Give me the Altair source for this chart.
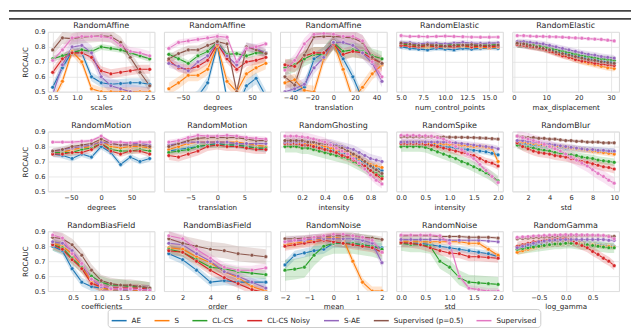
import altair as alt
import pandas as pd

SERIES = ["AE", "S", "CL-CS", "CL-CS Noisy", "S-AE", "Supervised (p=0.5)", "Supervised"]
COLORS = ["#1f77b4", "#ff7f0e", "#2ca02c", "#d62728", "#9467bd", "#8c564b", "#e377c2"]

# ---- Row 1 ----
p1_x = [0.5, 0.7, 0.9, 1.1, 1.3, 1.5, 1.7, 1.9, 2.1, 2.3, 2.5]
p1_ticks = [0.5, 1.0, 1.5, 2.0, 2.5]
p1_y = {
    "AE": [0.53, 0.66, 0.77, 0.76, 0.60, 0.56, 0.55, 0.555, 0.56, 0.56, 0.55],
    "S": [0.44, 0.57, 0.77, 0.70, 0.52, 0.50, 0.50, 0.50, 0.50, 0.50, 0.50],
    "CL-CS": [0.72, 0.74, 0.76, 0.78, 0.77, 0.80, 0.79, 0.78, 0.76, 0.74, 0.72],
    "CL-CS Noisy": [0.63, 0.72, 0.76, 0.76, 0.73, 0.64, 0.62, 0.63, 0.64, 0.65, 0.65],
    "S-AE": [0.48, 0.68, 0.80, 0.81, 0.76, 0.60, 0.54, 0.52, 0.50, 0.49, 0.48],
    "Supervised (p=0.5)": [0.78, 0.86, 0.855, 0.865, 0.87, 0.875, 0.87, 0.83, 0.73, 0.63, 0.54],
    "Supervised": [0.71, 0.78, 0.86, 0.87, 0.87, 0.87, 0.86, 0.81, 0.77, 0.76, 0.74],
}
p1_ci = [0.03, 0.03, 0.02, 0.03, 0.05, 0.04, 0.03]

p2_x = [-70, -56, -42, -28, -14, 0, 14, 28, 42, 56, 70]
p2_ticks = [-50, 0, 50]
p2_y = {
    "AE": [0.35, 0.40, 0.43, 0.47, 0.56, 0.81, 0.45, 0.38, 0.54, 0.59, 0.47],
    "S": [0.52, 0.56, 0.61, 0.61, 0.65, 0.81, 0.57, 0.50, 0.62, 0.66, 0.69],
    "CL-CS": [0.75, 0.72, 0.69, 0.74, 0.77, 0.83, 0.75, 0.755, 0.74, 0.76, 0.76],
    "CL-CS Noisy": [0.71, 0.66, 0.65, 0.67, 0.71, 0.82, 0.72, 0.65, 0.70, 0.71, 0.73],
    "S-AE": [0.69, 0.67, 0.64, 0.70, 0.74, 0.83, 0.74, 0.68, 0.80, 0.79, 0.76],
    "Supervised (p=0.5)": [0.72, 0.755, 0.78, 0.78, 0.81, 0.835, 0.82, 0.50, 0.80, 0.78, 0.755],
    "Supervised": [0.79, 0.83, 0.84, 0.85, 0.86, 0.87, 0.865, 0.70, 0.79, 0.80, 0.82],
}
p2_ci = [0.04, 0.04, 0.02, 0.03, 0.03, 0.03, 0.02]

p3_x = [-45, -36, -27, -18, -9, 0, 9, 18, 27, 36, 45]
p3_ticks = [-40, -20, 0, 20, 40]
p3_y = {
    "AE": [0.45, 0.50, 0.53, 0.72, 0.76, 0.83, 0.72, 0.60, 0.45, 0.40, 0.40],
    "S": [0.56, 0.58, 0.51, 0.50, 0.72, 0.83, 0.65, 0.45, 0.53, 0.62, 0.68],
    "CL-CS": [0.66, 0.68, 0.72, 0.75, 0.75, 0.83, 0.77, 0.78, 0.77, 0.74, 0.72],
    "CL-CS Noisy": [0.68, 0.67, 0.74, 0.76, 0.76, 0.82, 0.75, 0.77, 0.76, 0.72, 0.69],
    "S-AE": [0.50, 0.52, 0.55, 0.66, 0.73, 0.83, 0.83, 0.81, 0.76, 0.69, 0.57],
    "Supervised (p=0.5)": [0.60, 0.545, 0.745, 0.867, 0.87, 0.87, 0.865, 0.86, 0.83, 0.73, 0.69],
    "Supervised": [0.645, 0.71, 0.82, 0.884, 0.89, 0.885, 0.87, 0.87, 0.84, 0.70, 0.60],
}
p3_ci = [0.04, 0.04, 0.05, 0.04, 0.04, 0.05, 0.04]

p4_x = [5, 6, 7, 8, 9, 10, 11, 12, 13, 14, 15, 16]
p4_ticks = [5.0, 7.5, 10.0, 12.5, 15.0]
p4_y = {
    "AE": [0.80, 0.79, 0.785, 0.78, 0.79, 0.785, 0.78, 0.79, 0.785, 0.79, 0.795, 0.79],
    "S": [0.815, 0.81, 0.805, 0.80, 0.808, 0.80, 0.81, 0.805, 0.80, 0.798, 0.795, 0.80],
    "CL-CS": [0.82, 0.815, 0.81, 0.808, 0.812, 0.81, 0.815, 0.81, 0.808, 0.81, 0.812, 0.815],
    "CL-CS Noisy": [0.81, 0.805, 0.80, 0.81, 0.80, 0.805, 0.80, 0.81, 0.80, 0.805, 0.80, 0.805],
    "S-AE": [0.83, 0.828, 0.82, 0.826, 0.824, 0.82, 0.825, 0.83, 0.826, 0.823, 0.825, 0.827],
    "Supervised (p=0.5)": [0.825, 0.818, 0.81, 0.815, 0.81, 0.805, 0.81, 0.812, 0.815, 0.81, 0.808, 0.812],
    "Supervised": [0.875, 0.87, 0.87, 0.868, 0.87, 0.872, 0.87, 0.868, 0.866, 0.865, 0.865, 0.866],
}
p4_ci = [0.015, 0.015, 0.02, 0.015, 0.015, 0.015, 0.01]

p5_x = [1, 3, 5, 7, 9, 11, 13, 15, 17, 19, 21, 23, 25, 27, 29, 31]
p5_ticks = [0, 10, 20, 30]
p5_y = {
    "AE": [0.815, 0.81, 0.805, 0.80, 0.79, 0.78, 0.77, 0.76, 0.75, 0.74, 0.73, 0.72, 0.715, 0.705, 0.70, 0.695],
    "S": [0.82, 0.815, 0.81, 0.80, 0.79, 0.775, 0.76, 0.745, 0.73, 0.715, 0.70, 0.69, 0.68, 0.67, 0.66, 0.655],
    "CL-CS": [0.82, 0.82, 0.815, 0.81, 0.80, 0.79, 0.78, 0.77, 0.76, 0.75, 0.74, 0.735, 0.725, 0.72, 0.715, 0.71],
    "CL-CS Noisy": [0.815, 0.81, 0.80, 0.795, 0.785, 0.77, 0.755, 0.74, 0.73, 0.715, 0.705, 0.70, 0.69, 0.685, 0.68, 0.675],
    "S-AE": [0.835, 0.835, 0.83, 0.825, 0.82, 0.81, 0.80, 0.79, 0.78, 0.77, 0.76, 0.75, 0.745, 0.735, 0.73, 0.725],
    "Supervised (p=0.5)": [0.825, 0.82, 0.81, 0.80, 0.79, 0.78, 0.765, 0.755, 0.745, 0.735, 0.725, 0.715, 0.71, 0.70, 0.695, 0.69],
    "Supervised": [0.875, 0.875, 0.872, 0.87, 0.87, 0.868, 0.867, 0.865, 0.862, 0.86, 0.858, 0.855, 0.852, 0.85, 0.845, 0.84],
}
p5_ci = [0.02, 0.02, 0.025, 0.02, 0.02, 0.025, 0.01]

# ---- Row 2 ----
p6_x = [-80, -64, -48, -32, -16, 0, 16, 32, 48, 64, 80]
p6_ticks = [-50, 0, 50]
p6_y = {
    "AE": [0.75, 0.74, 0.72, 0.75, 0.73, 0.80, 0.76, 0.68, 0.73, 0.70, 0.72],
    "S": [0.76, 0.76, 0.78, 0.79, 0.80, 0.84, 0.80, 0.79, 0.80, 0.80, 0.79],
    "CL-CS": [0.76, 0.76, 0.76, 0.78, 0.79, 0.82, 0.78, 0.77, 0.77, 0.78, 0.77],
    "CL-CS Noisy": [0.75, 0.75, 0.76, 0.76, 0.78, 0.82, 0.77, 0.75, 0.77, 0.77, 0.75],
    "S-AE": [0.77, 0.78, 0.79, 0.80, 0.81, 0.83, 0.82, 0.81, 0.82, 0.82, 0.81],
    "Supervised (p=0.5)": [0.77, 0.78, 0.80, 0.81, 0.82, 0.85, 0.82, 0.81, 0.81, 0.81, 0.80],
    "Supervised": [0.83, 0.83, 0.83, 0.835, 0.84, 0.87, 0.83, 0.83, 0.825, 0.83, 0.83],
}
p6_ci = [0.02, 0.015, 0.02, 0.02, 0.015, 0.02, 0.01]

p7_x = [-9, -7.2, -5.4, -3.6, -1.8, 0, 1.8, 3.6, 5.4, 7.2, 9]
p7_ticks = [-5, 0, 5]
p7_y = {
    "AE": [0.77, 0.78, 0.79, 0.80, 0.81, 0.82, 0.81, 0.81, 0.80, 0.79, 0.78],
    "S": [0.78, 0.80, 0.82, 0.83, 0.83, 0.83, 0.83, 0.83, 0.82, 0.81, 0.80],
    "CL-CS": [0.76, 0.77, 0.78, 0.80, 0.81, 0.81, 0.81, 0.81, 0.80, 0.79, 0.79],
    "CL-CS Noisy": [0.74, 0.73, 0.75, 0.77, 0.80, 0.81, 0.80, 0.80, 0.79, 0.78, 0.78],
    "S-AE": [0.81, 0.82, 0.83, 0.83, 0.83, 0.83, 0.83, 0.82, 0.82, 0.82, 0.82],
    "Supervised (p=0.5)": [0.80, 0.82, 0.84, 0.855, 0.86, 0.86, 0.86, 0.86, 0.85, 0.84, 0.84],
    "Supervised": [0.83, 0.84, 0.86, 0.875, 0.87, 0.87, 0.875, 0.87, 0.86, 0.855, 0.85],
}
p7_ci = [0.02, 0.02, 0.02, 0.03, 0.015, 0.015, 0.015]

p8_x = [0.05, 0.1, 0.15, 0.2, 0.25, 0.3, 0.35, 0.4, 0.45, 0.5, 0.55, 0.6, 0.65, 0.7, 0.75, 0.8, 0.85, 0.9]
p8_ticks = [0.2, 0.4, 0.6, 0.8]
p8_y = {
    "AE": [0.82, 0.82, 0.82, 0.81, 0.81, 0.80, 0.80, 0.79, 0.78, 0.77, 0.76, 0.75, 0.73, 0.71, 0.69, 0.67, 0.66, 0.64],
    "S": [0.82, 0.82, 0.82, 0.82, 0.82, 0.81, 0.81, 0.80, 0.79, 0.78, 0.77, 0.76, 0.74, 0.72, 0.70, 0.68, 0.67, 0.66],
    "CL-CS": [0.80, 0.80, 0.80, 0.79, 0.79, 0.78, 0.77, 0.76, 0.75, 0.74, 0.73, 0.72, 0.70, 0.68, 0.66, 0.64, 0.62, 0.60],
    "CL-CS Noisy": [0.82, 0.82, 0.82, 0.81, 0.81, 0.80, 0.79, 0.78, 0.77, 0.76, 0.74, 0.73, 0.71, 0.69, 0.67, 0.64, 0.61, 0.585],
    "S-AE": [0.83, 0.83, 0.83, 0.83, 0.83, 0.83, 0.82, 0.82, 0.82, 0.81, 0.80, 0.79, 0.78, 0.76, 0.74, 0.72, 0.71, 0.70],
    "Supervised (p=0.5)": [0.84, 0.84, 0.84, 0.84, 0.83, 0.83, 0.82, 0.82, 0.81, 0.80, 0.79, 0.77, 0.75, 0.73, 0.70, 0.67, 0.645, 0.62],
    "Supervised": [0.87, 0.87, 0.87, 0.865, 0.86, 0.85, 0.84, 0.83, 0.81, 0.79, 0.77, 0.75, 0.72, 0.69, 0.65, 0.61, 0.575, 0.55],
}
p8_ci = [0.025, 0.025, 0.04, 0.03, 0.03, 0.03, 0.03]

p9_x = [0, 0.125, 0.25, 0.375, 0.5, 0.625, 0.75, 0.875, 1.0, 1.125, 1.25, 1.375, 1.5, 1.625, 1.75, 1.875, 2.0]
p9_ticks = [0.0, 0.5, 1.0, 1.5, 2.0]
p9_y = {
    "AE": [0.82, 0.82, 0.82, 0.82, 0.82, 0.815, 0.81, 0.80, 0.795, 0.79, 0.785, 0.78, 0.775, 0.77, 0.765, 0.755, 0.745],
    "S": [0.82, 0.82, 0.82, 0.82, 0.82, 0.82, 0.82, 0.818, 0.815, 0.81, 0.81, 0.805, 0.80, 0.80, 0.795, 0.785, 0.70],
    "CL-CS": [0.80, 0.80, 0.80, 0.80, 0.795, 0.78, 0.765, 0.75, 0.735, 0.72, 0.70, 0.685, 0.665, 0.645, 0.625, 0.60, 0.57],
    "CL-CS Noisy": [0.82, 0.82, 0.82, 0.82, 0.815, 0.81, 0.80, 0.79, 0.78, 0.77, 0.76, 0.75, 0.74, 0.72, 0.70, 0.69, 0.67],
    "S-AE": [0.83, 0.83, 0.83, 0.83, 0.83, 0.83, 0.83, 0.83, 0.828, 0.825, 0.82, 0.815, 0.81, 0.805, 0.80, 0.795, 0.785],
    "Supervised (p=0.5)": [0.865, 0.865, 0.865, 0.865, 0.865, 0.865, 0.865, 0.864, 0.863, 0.862, 0.862, 0.861, 0.86, 0.858, 0.856, 0.853, 0.85],
    "Supervised": [0.875, 0.875, 0.875, 0.873, 0.872, 0.87, 0.86, 0.85, 0.83, 0.80, 0.78, 0.75, 0.72, 0.68, 0.64, 0.60, 0.56],
}
p9_ci = [0.02, 0.02, 0.035, 0.025, 0.02, 0.01, 0.03]

p10_x = [1, 1.5, 2, 2.5, 3, 3.5, 4, 4.5, 5, 5.5, 6, 6.5, 7, 7.5, 8, 8.5, 9, 9.5, 10]
p10_ticks = [2, 4, 6, 8, 10]
p10_y = {
    "AE": [0.82, 0.82, 0.815, 0.81, 0.81, 0.805, 0.80, 0.80, 0.795, 0.79, 0.79, 0.785, 0.78, 0.78, 0.775, 0.775, 0.77, 0.77, 0.767],
    "S": [0.83, 0.83, 0.825, 0.82, 0.815, 0.81, 0.805, 0.80, 0.80, 0.795, 0.79, 0.785, 0.78, 0.775, 0.77, 0.765, 0.76, 0.755, 0.75],
    "CL-CS": [0.81, 0.80, 0.795, 0.79, 0.78, 0.775, 0.77, 0.76, 0.755, 0.75, 0.745, 0.74, 0.73, 0.725, 0.72, 0.71, 0.705, 0.70, 0.695],
    "CL-CS Noisy": [0.825, 0.80, 0.785, 0.77, 0.76, 0.755, 0.75, 0.74, 0.735, 0.73, 0.72, 0.71, 0.70, 0.695, 0.685, 0.675, 0.665, 0.66, 0.65],
    "S-AE": [0.84, 0.84, 0.835, 0.83, 0.825, 0.82, 0.815, 0.81, 0.805, 0.80, 0.795, 0.79, 0.785, 0.78, 0.78, 0.775, 0.775, 0.77, 0.77],
    "Supervised (p=0.5)": [0.87, 0.865, 0.86, 0.86, 0.855, 0.855, 0.85, 0.85, 0.845, 0.84, 0.84, 0.835, 0.835, 0.83, 0.83, 0.83, 0.825, 0.825, 0.825],
    "Supervised": [0.87, 0.86, 0.85, 0.84, 0.83, 0.815, 0.80, 0.785, 0.77, 0.75, 0.73, 0.71, 0.69, 0.67, 0.645, 0.62, 0.60, 0.575, 0.555],
}
p10_ci = [0.02, 0.02, 0.025, 0.03, 0.02, 0.01, 0.04]

# ---- Row 3 ----
p11_x = [0.1, 0.29, 0.48, 0.67, 0.86, 1.05, 1.24, 1.43, 1.62, 1.81, 2.0]
p11_ticks = [0.5, 1.0, 1.5, 2.0]
p11_y = {
    "AE": [0.80, 0.77, 0.65, 0.56, 0.53, 0.52, 0.51, 0.51, 0.51, 0.51, 0.51],
    "S": [0.82, 0.80, 0.75, 0.67, 0.56, 0.52, 0.51, 0.51, 0.51, 0.50, 0.50],
    "CL-CS": [0.81, 0.79, 0.72, 0.66, 0.60, 0.56, 0.54, 0.54, 0.53, 0.53, 0.52],
    "CL-CS Noisy": [0.81, 0.78, 0.71, 0.65, 0.55, 0.53, 0.52, 0.52, 0.52, 0.52, 0.51],
    "S-AE": [0.83, 0.82, 0.77, 0.68, 0.58, 0.53, 0.52, 0.51, 0.51, 0.51, 0.51],
    "Supervised (p=0.5)": [0.86, 0.85, 0.81, 0.74, 0.64, 0.57, 0.55, 0.54, 0.54, 0.53, 0.52],
    "Supervised": [0.875, 0.855, 0.75, 0.685, 0.58, 0.54, 0.515, 0.515, 0.515, 0.51, 0.505],
}
p11_ci = [0.03, 0.03, 0.04, 0.03, 0.03, 0.04, 0.03]

p12_x = [1, 2, 3, 4, 5, 6, 7, 8]
p12_ticks = [2, 4, 6, 8]
p12_y = {
    "AE": [0.75, 0.71, 0.64, 0.56, 0.57, 0.56, 0.56, 0.56],
    "S": [0.79, 0.78, 0.73, 0.69, 0.63, 0.59, 0.53, 0.50],
    "CL-CS": [0.78, 0.76, 0.71, 0.66, 0.65, 0.63, 0.62, 0.61],
    "CL-CS Noisy": [0.77, 0.76, 0.70, 0.64, 0.59, 0.55, 0.51, 0.49],
    "S-AE": [0.82, 0.81, 0.75, 0.70, 0.63, 0.60, 0.56, 0.52],
    "Supervised (p=0.5)": [0.85, 0.82, 0.80, 0.78, 0.77, 0.75, 0.74, 0.73],
    "Supervised": [0.87, 0.85, 0.78, 0.72, 0.66, 0.64, 0.64, 0.655],
}
p12_ci = [0.03, 0.03, 0.03, 0.03, 0.03, 0.05, 0.03]

p13_x = [-2, -1.6, -1.2, -0.8, -0.4, 0, 0.4, 0.8, 1.2, 1.6, 2]
p13_ticks = [-2, -1, 0, 1, 2]
p13_y = {
    "AE": [0.675, 0.74, 0.755, 0.77, 0.78, 0.82, 0.82, 0.82, 0.81, 0.80, 0.79],
    "S": [0.81, 0.82, 0.83, 0.84, 0.85, 0.86, 0.85, 0.70, 0.56, 0.50, 0.50],
    "CL-CS": [0.64, 0.647, 0.66, 0.74, 0.80, 0.82, 0.82, 0.82, 0.81, 0.80, 0.78],
    "CL-CS Noisy": [0.80, 0.81, 0.82, 0.83, 0.84, 0.83, 0.82, 0.81, 0.80, 0.79, 0.76],
    "S-AE": [0.83, 0.84, 0.84, 0.85, 0.85, 0.85, 0.85, 0.85, 0.84, 0.82, 0.69],
    "Supervised (p=0.5)": [0.85, 0.85, 0.855, 0.86, 0.865, 0.87, 0.87, 0.87, 0.86, 0.855, 0.845],
    "Supervised": [0.83, 0.84, 0.85, 0.86, 0.87, 0.88, 0.88, 0.87, 0.86, 0.84, 0.76],
}
p13_ci = [0.03, 0.03, 0.07, 0.03, 0.03, 0.02, 0.02]

p14_x = [0, 0.2, 0.4, 0.6, 0.8, 1.0, 1.2, 1.4, 1.6, 1.8, 2.0]
p14_ticks = [0.0, 0.5, 1.0, 1.5, 2.0]
p14_y = {
    "AE": [0.82, 0.82, 0.82, 0.81, 0.80, 0.79, 0.78, 0.77, 0.76, 0.75, 0.73],
    "S": [0.83, 0.83, 0.83, 0.83, 0.83, 0.83, 0.83, 0.82, 0.82, 0.78, 0.74],
    "CL-CS": [0.82, 0.81, 0.81, 0.80, 0.70, 0.66, 0.59, 0.56, 0.555, 0.55, 0.545],
    "CL-CS Noisy": [0.824, 0.82, 0.81, 0.79, 0.77, 0.755, 0.75, 0.73, 0.73, 0.725, 0.72],
    "S-AE": [0.845, 0.845, 0.845, 0.845, 0.845, 0.84, 0.84, 0.84, 0.84, 0.835, 0.83],
    "Supervised (p=0.5)": [0.87, 0.87, 0.87, 0.87, 0.865, 0.865, 0.865, 0.86, 0.86, 0.86, 0.855],
    "Supervised": [0.875, 0.875, 0.875, 0.875, 0.87, 0.82, 0.60, 0.52, 0.51, 0.50, 0.50],
}
p14_ci = [0.02, 0.02, 0.05, 0.03, 0.01, 0.01, 0.02]

p15_x = [-0.9, -0.8, -0.7, -0.6, -0.5, -0.4, -0.3, -0.2, -0.1, 0.0, 0.1, 0.2, 0.3, 0.4, 0.5, 0.6, 0.7, 0.8, 0.9]
p15_ticks = [-0.5, 0.0, 0.5]
p15_y = {
    "AE": [0.79, 0.795, 0.80, 0.805, 0.81, 0.81, 0.815, 0.815, 0.82, 0.82, 0.82, 0.82, 0.815, 0.815, 0.81, 0.81, 0.805, 0.80, 0.80],
    "S": [0.76, 0.77, 0.78, 0.79, 0.80, 0.805, 0.81, 0.815, 0.815, 0.82, 0.82, 0.82, 0.815, 0.81, 0.81, 0.805, 0.80, 0.80, 0.795],
    "CL-CS": [0.78, 0.785, 0.79, 0.795, 0.80, 0.805, 0.81, 0.815, 0.815, 0.82, 0.82, 0.815, 0.81, 0.81, 0.805, 0.80, 0.795, 0.79, 0.79],
    "CL-CS Noisy": [0.80, 0.81, 0.82, 0.83, 0.835, 0.84, 0.845, 0.85, 0.852, 0.855, 0.84, 0.82, 0.805, 0.79, 0.765, 0.745, 0.72, 0.70, 0.67],
    "S-AE": [0.79, 0.80, 0.81, 0.82, 0.83, 0.835, 0.84, 0.842, 0.845, 0.845, 0.845, 0.845, 0.845, 0.845, 0.845, 0.845, 0.845, 0.84, 0.84],
    "Supervised (p=0.5)": [0.85, 0.852, 0.855, 0.858, 0.86, 0.862, 0.864, 0.866, 0.868, 0.87, 0.87, 0.87, 0.87, 0.87, 0.87, 0.87, 0.87, 0.868, 0.866],
    "Supervised": [0.86, 0.862, 0.865, 0.868, 0.87, 0.872, 0.874, 0.875, 0.876, 0.877, 0.877, 0.877, 0.876, 0.876, 0.875, 0.874, 0.872, 0.865, 0.85],
}
p15_ci = [0.02, 0.02, 0.035, 0.03, 0.015, 0.01, 0.01]

PANELS = [
    ("RandomAffine", "scales", p1_x, p1_y, p1_ci, p1_ticks, ".1f"),
    ("RandomAffine", "degrees", p2_x, p2_y, p2_ci, p2_ticks, "d"),
    ("RandomAffine", "translation", p3_x, p3_y, p3_ci, p3_ticks, "d"),
    ("RandomElastic", "num_control_points", p4_x, p4_y, p4_ci, p4_ticks, ".1f"),
    ("RandomElastic", "max_displacement", p5_x, p5_y, p5_ci, p5_ticks, "d"),
    ("RandomMotion", "degrees", p6_x, p6_y, p6_ci, p6_ticks, "d"),
    ("RandomMotion", "translation", p7_x, p7_y, p7_ci, p7_ticks, "d"),
    ("RandomGhosting", "intensity", p8_x, p8_y, p8_ci, p8_ticks, ".1f"),
    ("RandomSpike", "intensity", p9_x, p9_y, p9_ci, p9_ticks, ".1f"),
    ("RandomBlur", "std", p10_x, p10_y, p10_ci, p10_ticks, "d"),
    ("RandomBiasField", "coefficients", p11_x, p11_y, p11_ci, p11_ticks, ".1f"),
    ("RandomBiasField", "order", p12_x, p12_y, p12_ci, p12_ticks, "d"),
    ("RandomNoise", "mean", p13_x, p13_y, p13_ci, p13_ticks, "d"),
    ("RandomNoise", "std", p14_x, p14_y, p14_ci, p14_ticks, ".1f"),
    ("RandomGamma", "log_gamma", p15_x, p15_y, p15_ci, p15_ticks, ".1f"),
]

FONT = "DejaVu Sans"
TXT = "#262626"
W, H = 107, 60

color_scale = alt.Scale(domain=SERIES, range=COLORS)
legend = alt.Legend(
    orient="none", legendX=60, legendY=278, direction="horizontal", columns=7,
    title=None, symbolType="stroke", symbolSize=225, symbolStrokeWidth=1.5,
    symbolOpacity=1, labelFont=FONT, labelFontSize=7.2, labelColor=TXT, labelOffset=4,
    columnPadding=10, padding=3, strokeColor="#cccccc", cornerRadius=3,
    fillColor="white",
)
color_enc = alt.Color("series:N", scale=color_scale, legend=legend, sort=SERIES)

# header rule of the page (two positions, y in px relative to the first panel)
header_y = [-22, -14]


def make_panel(idx, title, xtitle, xs, ys, ci, ticks, fmt):
    rows = []
    for s, hw in zip(SERIES, ci):
        for xv, yv in zip(xs, ys[s]):
            rows.append({"series": s, "x": xv, "y": yv, "lo": yv - hw, "hi": yv + hw})
    df = pd.DataFrame(rows)
    span = max(xs) - min(xs)
    dom = [min(xs) - 0.05 * span, max(xs) + 0.05 * span]
    first = idx % 5 == 0
    xenc = alt.X("x:Q", scale=alt.Scale(domain=dom, nice=False, zero=False),
                 axis=alt.Axis(values=ticks, format=fmt, title=xtitle))
    yscale = alt.Scale(domain=[0.5, 0.9], nice=False, zero=False)
    if first:
        yaxis = alt.Axis(values=[0.5, 0.6, 0.7, 0.8, 0.9], format=".1f", title="ROCAUC", titlePadding=5)
    else:
        yaxis = alt.Axis(values=[0.5, 0.6, 0.7, 0.8, 0.9], labels=False, title=None)
    base = alt.Chart(df)
    band = base.mark_area(opacity=0.2, clip=True).encode(
        x=xenc, y=alt.Y("lo:Q", scale=yscale, axis=yaxis), y2="hi:Q", color=color_enc,
    )
    line = base.mark_line(strokeWidth=1.1, clip=True).encode(
        x=xenc, y=alt.Y("y:Q", scale=yscale, axis=yaxis), color=color_enc,
    )
    pts = base.mark_circle(size=14, opacity=1, stroke="white", strokeWidth=0.4, clip=True).encode(
        x=xenc, y=alt.Y("y:Q", scale=yscale, axis=yaxis), color=color_enc,
    )
    ttl = alt.Chart(pd.DataFrame({"t": [title]})).mark_text(
        font=FONT, fontSize=8, color=TXT, baseline="alphabetic", align="center"
    ).encode(text="t:N", x=alt.value(W / 2), y=alt.value(-3.5))
    layers = [band, line, pts, ttl]
    if idx == 0:
        for hy in header_y:
            layers.append(alt.Chart(pd.DataFrame({"a": [0]})).mark_rect(
                color="#444444", opacity=1, clip=False
            ).encode(x=alt.value(-39), x2=alt.value(585), y=alt.value(hy), y2=alt.value(hy + 1.8)))
    return alt.layer(*layers).properties(width=W, height=H)


charts = [make_panel(i, *p) for i, p in enumerate(PANELS)]

chart = alt.concat(*charts, columns=5, spacing={"row": 40, "column": 9.5}, bounds="flush").properties(
    padding={"left": 0, "top": 0.5, "right": 0, "bottom": 0}
).configure_view(
    stroke="#d4d4d4", strokeWidth=0.9
).configure_axis(
    domain=False, ticks=False, grid=True, gridColor="#e2e2e2", gridWidth=0.8,
    labelFont=FONT, labelFontSize=6.7, labelColor=TXT, labelPadding=3,
    titleFont=FONT, titleFontSize=7.2, titleFontWeight="normal", titleColor=TXT, titlePadding=2,
)

chart.save("out.html", embed_options={"renderer": "svg", "actions": False})
